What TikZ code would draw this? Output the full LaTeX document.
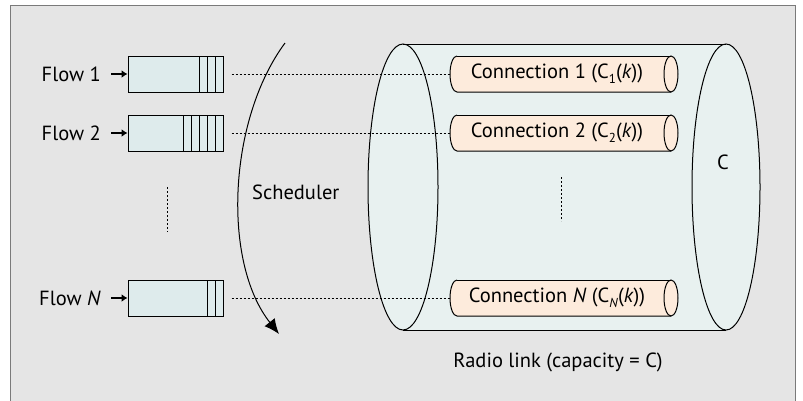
\documentclass[tikz,border=0pt]{standalone}
\usepackage{fontspec}
\setmainfont{PT Sans}
\usetikzlibrary{arrows.meta}
\definecolor{bggray}{HTML}{E5E5E5}
\definecolor{framegray}{HTML}{7A7A7A}
\definecolor{cylfill}{HTML}{E8F1F0}
\definecolor{qfill}{HTML}{DEEBEC}
\definecolor{tubefill}{HTML}{FDEBDC}
\newcommand{\mysub}[1]{\raisebox{-0.45ex}{\fontsize{13}{15}\selectfont #1}}
\tikzset{
  queuebox/.style={draw, line width=1pt, fill=qfill, minimum width=95pt, minimum height=36pt, inner sep=0pt},
  flowlbl/.style={anchor=east, inner sep=0pt},
  inarrow/.style={line width=1.2pt, -{Latex[length=6pt,width=8pt]}},
  dotline/.style={line width=0.9pt, dash pattern=on 2pt off 2pt},
  tubelbl/.style={inner sep=0pt},
  outl/.style={line width=1pt},
}
\begin{document}
\begin{tikzpicture}[x=1pt,y=-1pt, font=\fontsize{20.5}{24}\selectfont]
\useasboundingbox (0,0) rectangle (803,400);
\fill[white] (0,0) rectangle (803,400);
\draw[framegray, fill=bggray, line width=1pt] (10,5) rectangle (795,410);

% big cylinder
\fill[cylfill] (403,44) arc[start angle=270, end angle=90, x radius=35, y radius=143]
  -- (726,330) arc[start angle=90, end angle=-90, x radius=34, y radius=143] -- cycle;
\draw[outl] (403,44) -- (726,44);
\draw[outl] (403,330) -- (726,330);
\draw[outl] (403,187) ellipse[x radius=35, y radius=143];
\draw[outl] (726,187) ellipse[x radius=34, y radius=143];
\node (cap) at (723,162) {C};
\node (radio) at (558,362) {Radio link (capacity = C)};
\draw[dotline] (561,177) -- (561,221);

% tubes
\foreach \y/\nm in {74/1, 133/2, 298/N} {
  \fill[tubefill] (457,\y-18) arc[start angle=270, end angle=90, x radius=7, y radius=18]
     -- (671,\y+18) -- (671,\y-18) -- cycle;
  \fill[tubefill] (671,\y) ellipse[x radius=7, y radius=18];
  \draw[outl] (457,\y-18) arc[start angle=270, end angle=90, x radius=7, y radius=18] -- (671,\y+18);
  \draw[outl] (457,\y-18) -- (671,\y-18);
  \draw[outl] (671,\y) ellipse[x radius=7, y radius=18];
  \coordinate (t\nm) at (450,\y);
}
\node[tubelbl] (c1) at (557,74) {Connection 1 (C\mysub{1}(\textit{k}))};
\node[tubelbl] (c2) at (557,133) {Connection 2 (C\mysub{2}(\textit{k}))};
\node[tubelbl] (cN) at (557,298) {Connection \textit{N} (C\mysub{\textit{N}}(\textit{k}))};

% queues
\node[queuebox] (q1) at (175.5,74) {};
\node[queuebox] (q2) at (175.5,133) {};
\node[queuebox] (qN) at (175.5,298) {};
\foreach \x in {199,207,215} \draw[line width=1pt] (\x,56) -- (\x,92);
\foreach \x in {183,191,199,207,215} \draw[line width=1pt] (\x,115) -- (\x,151);
\foreach \x in {207,215} \draw[line width=1pt] (\x,280) -- (\x,316);

\node[flowlbl] (f1) at (101,74) {Flow 1};
\node[flowlbl] (f2) at (101,133) {Flow 2};
\node[flowlbl] (fN) at (101,298) {Flow \textit{N}};
\draw[inarrow] ([xshift=10pt]f1.east) -- (q1.west);
\draw[inarrow] ([xshift=10pt]f2.east) -- (q2.west);
\draw[inarrow] ([xshift=10pt]fN.east) -- (qN.west);
\draw[dotline] (167,187) -- (167,232);

% connectors queue -> connection
\draw[dotline] ([xshift=8pt]q1.east) -- (t1);
\draw[dotline] ([xshift=8pt]q2.east) -- (t2);
\draw[dotline] ([xshift=8pt]qN.east) -- (tN);

% scheduler
\coordinate (s0) at (285,43);
\coordinate (s1) at (279,334);
\draw[line width=1pt, -{Latex[length=15pt,width=13pt]}] (s0) .. controls (228,120) and (222,262) .. (s1);
\node[anchor=west, inner sep=0pt] (sch) at (252,192) {Scheduler};
\end{tikzpicture}
\end{document}
